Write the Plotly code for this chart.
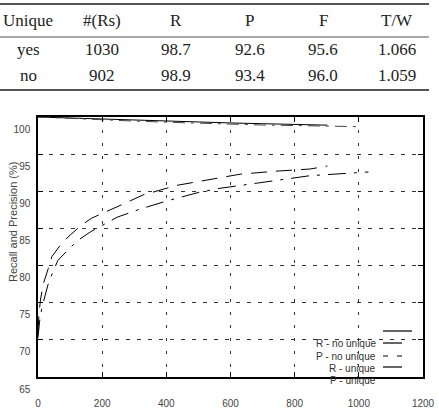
import plotly.graph_objects as go

# ---------------- data ----------------
table_header = ["Unique", "#(Rs)", "R", "P", "F", "T/W"]
table_rows = [
    ["yes", "1030", "98.7", "92.6", "95.6", "1.066"],
    ["no", "902", "98.9", "93.4", "96.0", "1.059"],
]

r_nouniq_x = [0, 100, 200, 300, 400, 500, 600, 700, 800, 902]
r_nouniq_y = [100.0, 99.85, 99.7, 99.55, 99.4, 99.3, 99.2, 99.1, 98.98, 98.9]

r_uniq_x = [0, 100, 200, 300, 400, 500, 600, 700, 800, 900, 1000]
r_uniq_y = [100.0, 99.8, 99.6, 99.45, 99.3, 99.15, 99.0, 98.92, 98.85, 98.78, 98.7]

p_nouniq_x = [0, 3, 8, 17, 32, 43, 74, 100, 137, 168, 246, 327, 433, 536, 630, 739, 848, 902]
p_nouniq_y = [71.0, 73.5, 75.5, 77.6, 79.6, 81.2, 83.0, 84.1, 85.5, 86.4, 87.9, 89.5, 90.8, 91.6, 92.3, 92.7, 93.0, 93.4]

p_uniq_x = [0, 5, 12, 22, 31, 45, 62, 100, 125, 162, 246, 318, 402, 505, 567, 683, 848, 1030]
p_uniq_y = [70.3, 72.5, 74.3, 75.8, 77.4, 79.0, 80.7, 82.4, 83.4, 84.5, 86.5, 87.6, 88.7, 89.9, 90.4, 91.1, 92.1, 92.6]

x_ticks = [0, 200, 400, 600, 800, 1000, 1200]
y_ticks = [65, 70, 75, 80, 85, 90, 95, 100]

legend_labels = ["R - no unique", "P - no unique", "R - unique", "P - unique"]

# ---------------- layout helpers ----------------
W, H = 439, 412
L, R, T, B = 38, 423, 117, 377


def px(x):
    return (x - L) / (R - L)


def py(y):
    return (B - y) / (B - T)


fig = go.Figure()

fig.add_trace(go.Scatter(x=r_nouniq_x, y=r_nouniq_y, mode="lines",
                         line=dict(color="black", width=1), showlegend=False))
fig.add_trace(go.Scatter(x=r_uniq_x, y=r_uniq_y, mode="lines",
                         line=dict(color="#444", width=1, dash="12px,6px,3px,6px"), showlegend=False))
fig.add_trace(go.Scatter(x=p_nouniq_x, y=p_nouniq_y, mode="lines",
                         line=dict(color="black", width=1, dash="16px,9px"), showlegend=False))
fig.add_trace(go.Scatter(x=p_uniq_x, y=p_uniq_y, mode="lines",
                         line=dict(color="black", width=1, dash="18px,8px,3px,8px"), showlegend=False))

axis_font = dict(family="Liberation Sans, Arial, sans-serif", size=10, color="#444")

fig.update_xaxes(range=[0, 1200], tickvals=x_ticks, ticktext=[str(v) for v in x_ticks],
                 showline=True, linecolor="black", linewidth=1.5, mirror="ticks",
                 ticks="inside", ticklen=5, tickcolor="black", automargin=False,
                 showgrid=True, gridcolor="#333", gridwidth=1, griddash="3px,10px",
                 zeroline=False, tickfont=axis_font, ticklabelstandoff=16)
fig.update_yaxes(range=[65, 100], tickvals=y_ticks, ticktext=[str(v) for v in y_ticks],
                 showline=True, linecolor="black", linewidth=1.5, mirror="ticks",
                 ticks="inside", ticklen=5, tickcolor="black", automargin=False,
                 showgrid=True, gridcolor="#333", gridwidth=1, griddash="4px,7px",
                 zeroline=False, tickfont=axis_font, ticklabelshift=12, ticklabelstandoff=4)

shapes = []
annotations = []

# y axis title
annotations.append(dict(x=px(13), y=py(222), xref="paper", yref="paper",
                        text="Recall and Precision (%)", textangle=-90, showarrow=False,
                        xanchor="center", yanchor="middle",
                        font=dict(family="Liberation Sans, Arial, sans-serif", size=11, color="#444")))

# legend (gnuplot style: label left, sample right)
leg_font = dict(family="Liberation Sans, Arial, sans-serif", size=10, color="#333")
label_y = [343, 356, 368, 380]
for lab, yy in zip(legend_labels, label_y):
    annotations.append(dict(x=px(378), y=py(yy), xref="paper", yref="paper", text=lab,
                            xanchor="right", yanchor="middle", showarrow=False, font=leg_font))
samples = [
    (383, 412, 331, "black", 1.2, "solid"),
    (383, 402, 343, "black", 1.2, "solid"),
    (383, 402, 356, "black", 1.2, "5px,9px"),
    (383, 402, 367, "#666", 2, "solid"),
]
for x0, x1, yy, c, w, d in samples:
    shapes.append(dict(type="line", xref="paper", yref="paper", x0=px(x0), x1=px(x1),
                       y0=py(yy), y1=py(yy), line=dict(color=c, width=w, dash=d)))

# table above the chart
tfont = dict(family="Liberation Serif, Times New Roman, serif", size=17, color="#222")
col_x = [28, 102, 176, 250, 323, 397]
row_y = [20, 49, 76]
for i, h in enumerate(table_header):
    annotations.append(dict(x=px(col_x[i]), y=py(row_y[0]), xref="paper", yref="paper", text=h,
                            showarrow=False, xanchor="center", yanchor="middle", font=tfont))
for r, row in enumerate(table_rows):
    for i, v in enumerate(row):
        annotations.append(dict(x=px(col_x[i]), y=py(row_y[r + 1]), xref="paper", yref="paper",
                                text=v, showarrow=False, xanchor="center", yanchor="middle", font=tfont))
for yy, w in [(4, 2), (37, 1.2), (90, 2)]:
    shapes.append(dict(type="line", xref="paper", yref="paper", x0=px(0), x1=px(429),
                       y0=py(yy), y1=py(yy), line=dict(color="#555", width=w)))

fig.update_layout(width=W, height=H, margin=dict(l=L, r=W - R, t=T, b=H - B, autoexpand=False),
                  paper_bgcolor="white", plot_bgcolor="white", showlegend=False,
                  shapes=shapes, annotations=annotations)

fig.write_html("out.html")
